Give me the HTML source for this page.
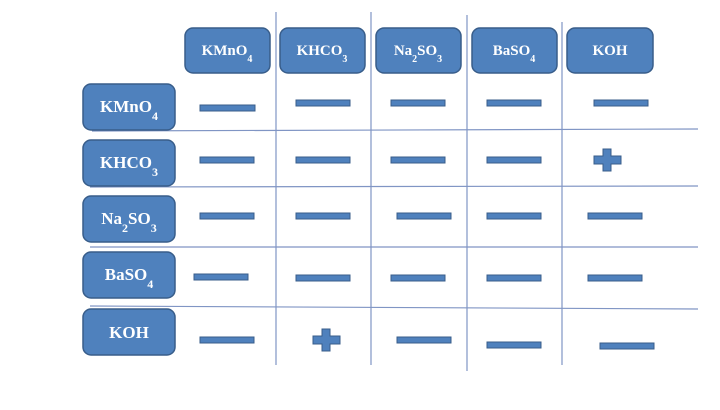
<!DOCTYPE html>
<html><head><meta charset="utf-8"><style>
html,body{margin:0;padding:0;background:#fff}
svg text{font-family:"Liberation Serif",serif;font-weight:bold;fill:#fff}
</style></head><body>
<svg width="720" height="405" viewBox="0 0 720 405" xmlns="http://www.w3.org/2000/svg">
<g stroke="#8095c4" stroke-width="1.2" fill="none">
<line x1="276" y1="12" x2="276" y2="365"/>
<line x1="371" y1="12" x2="371" y2="365"/>
<line x1="467" y1="15" x2="467" y2="371"/>
<line x1="562" y1="22" x2="562" y2="365"/>
<line x1="92" y1="131" x2="698" y2="129"/>
<line x1="90" y1="187" x2="698" y2="186"/>
<line x1="90" y1="247" x2="698" y2="247"/>
<line x1="90" y1="306" x2="698" y2="309"/>
</g>
<g fill="#4f81bd" stroke="#385d8a" stroke-width="1.5">
<rect x="185" y="28" width="85" height="45" rx="8"/>
<rect x="280" y="28" width="85" height="45" rx="8"/>
<rect x="376" y="28" width="85" height="45" rx="8"/>
<rect x="472" y="28" width="85" height="45" rx="8"/>
<rect x="567" y="28" width="86" height="45" rx="8"/>
<rect x="83" y="84" width="92" height="46" rx="8"/>
<rect x="83" y="140" width="92" height="46" rx="8"/>
<rect x="83" y="196" width="92" height="46" rx="8"/>
<rect x="83" y="252" width="92" height="46" rx="8"/>
<rect x="83" y="309" width="92" height="46" rx="8"/>
</g>
<g font-size="15" text-anchor="middle">
<text x="227" y="55">KMnO<tspan font-size="10" dy="7">4</tspan></text>
<text x="322" y="55">KHCO<tspan font-size="10" dy="7">3</tspan></text>
<text x="418" y="55">Na<tspan font-size="10" dy="7">2</tspan><tspan dy="-7">SO</tspan><tspan font-size="10" dy="7">3</tspan></text>
<text x="514" y="55">BaSO<tspan font-size="10" dy="7">4</tspan></text>
<text x="610" y="55">KOH</text>
</g>
<g font-size="17" text-anchor="middle">
<text x="129" y="112">KMnO<tspan font-size="12" dy="8">4</tspan></text>
<text x="129" y="168">KHCO<tspan font-size="12" dy="8">3</tspan></text>
<text x="129" y="224">Na<tspan font-size="12" dy="8">2</tspan><tspan dy="-8">SO</tspan><tspan font-size="12" dy="8">3</tspan></text>
<text x="129" y="280">BaSO<tspan font-size="12" dy="8">4</tspan></text>
<text x="129" y="338">KOH</text>
</g>
<g fill="#4f81bd" stroke="#385d8a" stroke-width="1">
<rect x="200" y="105" width="55" height="6"/>
<rect x="296" y="100" width="54" height="6"/>
<rect x="391" y="100" width="54" height="6"/>
<rect x="487" y="100" width="54" height="6"/>
<rect x="594" y="100" width="54" height="6"/>

<rect x="200" y="157" width="54" height="6"/>
<rect x="296" y="157" width="54" height="6"/>
<rect x="391" y="157" width="54" height="6"/>
<rect x="487" y="157" width="54" height="6"/>
<path d="M603 149h8v7h10v8h-10v7h-8v-7h-9v-8h9z"/>

<rect x="200" y="213" width="54" height="6"/>
<rect x="296" y="213" width="54" height="6"/>
<rect x="397" y="213" width="54" height="6"/>
<rect x="487" y="213" width="54" height="6"/>
<rect x="588" y="213" width="54" height="6"/>

<rect x="194" y="274" width="54" height="6"/>
<rect x="296" y="275" width="54" height="6"/>
<rect x="391" y="275" width="54" height="6"/>
<rect x="487" y="275" width="54" height="6"/>
<rect x="588" y="275" width="54" height="6"/>

<rect x="200" y="337" width="54" height="6"/>
<path d="M322 329h8v7h10v8h-10v7h-8v-7h-9v-8h9z"/>
<rect x="397" y="337" width="54" height="6"/>
<rect x="487" y="342" width="54" height="6"/>
<rect x="600" y="343" width="54" height="6"/>
</g>
</svg>
</body></html>
